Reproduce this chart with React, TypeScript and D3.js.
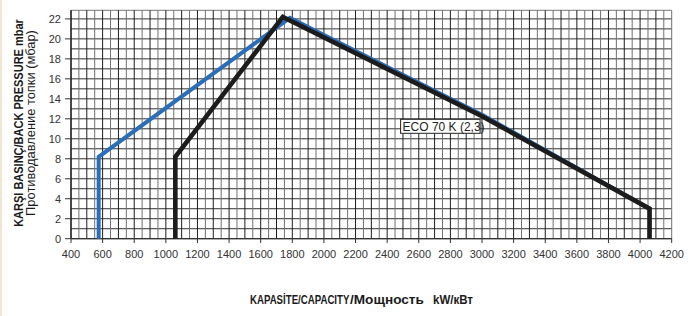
import React, { useLayoutEffect, useRef, useState } from "react";
import * as d3 from "d3";

// tick labels / ranges
const xTicks = d3.range(400, 4201, 200);
const yTicks = d3.range(0, 23, 2);

// series (kW, mbar)
const blueKw = [575, 575, 1785, 3000, 4060];
const blueMbar = [0, 8.2, 22.1, 12.4, 3];
const blackKw = [1060, 1060, 1740, 3000, 4060, 4060];
const blackMbar = [0, 8.2, 22.2, 12.25, 3, 0];

const curveName = "ECO 70 K (2,3)";

const W = 697;
const H = 316;

// text squeezed horizontally to a given width (condensed look)
function FitText(props: {
  x: number;
  y: number;
  width: number;
  anchor?: string;
  rotate?: number;
  children: string;
  [k: string]: any;
}) {
  const { x, y, width, anchor, rotate, children, ...rest } = props;
  const ref = useRef<SVGTextElement>(null);
  const [sx, setSx] = useState(1);
  useLayoutEffect(() => {
    if (ref.current) {
      const w = ref.current.getComputedTextLength();
      if (w > 0) setSx(width / w);
    }
  }, [width, children]);
  return (
    <g transform={`translate(${x},${y}) rotate(${rotate ?? 0}) scale(${sx},1)`}>
      <text ref={ref} textAnchor={anchor ?? "start"} {...rest}>
        {children}
      </text>
    </g>
  );
}

export default function App() {
  const x = d3.scaleLinear().domain([400, 4200]).range([71, 671.7]);
  const y = d3.scaleLinear().domain([0, 22.86]).range([238.7, 10.3]);

  const line = d3
    .line<[number, number]>()
    .x((d) => x(d[0]))
    .y((d) => y(d[1]));

  const blue = blueKw.map((k, i) => [k, blueMbar[i]] as [number, number]);
  const black = blackKw.map((k, i) => [k, blackMbar[i]] as [number, number]);

  const vLines = d3.range(400, 4201, 50);
  const hLines = d3.range(0, 23, 1);

  const font = "'Liberation Sans', Arial, Helvetica, sans-serif";

  return (
    <svg
      width={W}
      height={H}
      style={{ position: "absolute", left: 0, top: 0, background: "#fff" }}
      fontFamily={font}
    >
      <rect x={0} y={0} width={2} height={H} fill="#f1e6d2" />

      {/* grid */}
      {hLines.map((v) => (
        <line key={"h" + v} x1={x(400)} x2={x(4200)} y1={y(v)} y2={y(v)} stroke="#333" strokeWidth={1} />
      ))}
      <line x1={x(400)} x2={x(4200)} y1={y(22.86)} y2={y(22.86)} stroke="#777" strokeWidth={1} />
      {vLines.map((v) => (
        <line
          key={"v" + v}
          x1={x(v)}
          x2={x(v)}
          y1={y(22.86)}
          y2={y(0)}
          stroke={v % 100 === 0 && v !== 4200 ? "#1e1e1e" : "#707070"}
          strokeWidth={1}
        />
      ))}
      <line x1={x(400)} x2={x(400)} y1={y(22.86)} y2={y(0)} stroke="#222" strokeWidth={1.3} />
      <line x1={x(400)} x2={x(4200)} y1={y(0)} y2={y(0)} stroke="#333" strokeWidth={1.3} />

      {/* y axis */}
      {yTicks.map((v) => (
        <g key={"yt" + v}>
          <line x1={65} x2={x(400)} y1={y(v)} y2={y(v)} stroke="#333" strokeWidth={1} />
          <text x={61} y={y(v)} dy="0.35em" textAnchor="end" fontSize={11} fill="#333">
            {v}
          </text>
        </g>
      ))}

      {/* x axis */}
      {xTicks.map((v) => (
        <g key={"xt" + v}>
          <line x1={x(v)} x2={x(v)} y1={y(0)} y2={243} stroke="#333" strokeWidth={1} />
          <text x={x(v)} y={258} textAnchor="middle" fontSize={11} fill="#333">
            {v}
          </text>
        </g>
      ))}

      {/* curves */}
      <path d={line(blue) ?? ""} fill="none" stroke="#2a6db8" strokeWidth={4} strokeLinejoin="miter" />
      <path d={line(black) ?? ""} fill="none" stroke="#1c1c1c" strokeWidth={4.6} strokeLinejoin="miter" />

      {/* label box */}
      <rect x={x(2485)} y={y(11.95)} width={x(2988) - x(2485)} height={y(10.55) - y(11.95)} fill="#fff" stroke="#222" strokeWidth={1} />
      <FitText x={x(2485) + 2} y={y(11.25) + 4.5} width={82} fontSize={12.5} fill="#222">
        {curveName}
      </FitText>

      {/* axis titles */}
      <FitText x={23} y={123} rotate={-90} anchor="middle" width={208} fontSize={12} fontWeight="bold" fill="#1a1a1a">
        KARŞI BASINÇ/BACK PRESSURE mbar
      </FitText>
      <FitText x={35} y={123} rotate={-90} anchor="middle" width={186} fontSize={12} fill="#1a1a1a">
        Противодавление топки (мбар)
      </FitText>
      <FitText x={250} y={304} width={99.5} fontSize={12.5} fontWeight="bold" fill="#1a1a1a">
        KAPASİTE/CAPACITY
      </FitText>
      <FitText x={350} y={304} width={74} fontSize={12.5} fontWeight="600" fill="#1a1a1a">
        /Мощность
      </FitText>
      <FitText x={433} y={304} width={40} fontSize={12.5} fontWeight="bold" fill="#1a1a1a">
        kW/кВт
      </FitText>
    </svg>
  );
}
